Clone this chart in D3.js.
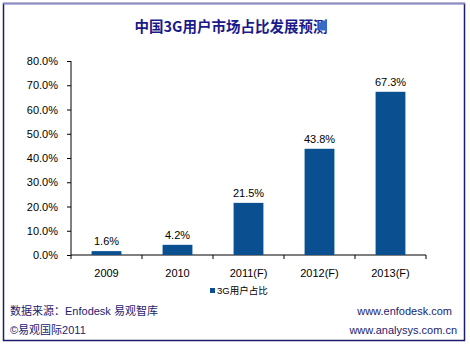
<!DOCTYPE html>
<html><head><meta charset="utf-8">
<script src="https://cdn.jsdelivr.net/npm/d3@7"></script>
<style>html,body{margin:0;padding:0;background:#fff;}svg{display:block;}</style>
</head><body>
<script>
const categories = ["2009","2010","2011(F)","2012(F)","2013(F)"];
const values = [1.6, 4.2, 21.5, 43.8, 67.3];
const yTicks = [0,10,20,30,40,50,60,70,80];
const seriesName = "3G用户占比";
const title = "中国3G用户市场占比发展预测";

const W = 470, H = 344;
const svg = d3.select("body").append("svg").attr("width", W).attr("height", H);
const font = "'Liberation Sans', Arial, 'Noto Sans CJK SC', sans-serif";

// frame
svg.append("rect").attr("x",3.5).attr("y",3.5).attr("width",461).attr("height",337)
  .attr("fill","#fff").attr("stroke","#1c1c6c").attr("stroke-width",1.5);
svg.append("line").attr("x1",3).attr("x2",465).attr("y1",3.5).attr("y2",3.5)
  .attr("stroke","#8a8ac6").attr("stroke-width",1.5);

// title
svg.append("text").attr("x",231).attr("y",32).attr("text-anchor","middle")
  .attr("font-family","'Noto Sans CJK SC', sans-serif").attr("font-weight","bold")
  .attr("font-size",14.5).attr("fill","#1a1a8a").text(title);

const x = d3.scaleBand().domain(categories).range([71,426]).paddingInner(0.58).paddingOuter(0.29);
const y = d3.scaleLinear().domain([0,80]).range([255,61]);

// y axis
const ya = svg.append("g").attr("transform","translate(71,0)")
  .call(d3.axisLeft(y).tickValues(yTicks).tickSize(4).tickPadding(9).tickFormat(d => d.toFixed(1)+"%"));
ya.select(".domain").attr("d","M0,61V255").attr("stroke","#000");
ya.selectAll(".tick line").attr("stroke","#000");
ya.selectAll("text").attr("font-family",font).attr("font-size",11).attr("fill","#000");

// x axis
const xa = svg.append("g").attr("transform","translate(0,255)")
  .call(d3.axisBottom(x).tickSize(0).tickPadding(14));
xa.select(".domain").attr("d","M71,0H426").attr("stroke","#000");
xa.selectAll("text").attr("font-family",font).attr("font-size",11).attr("fill","#000");
// category boundary ticks
const step = x.step();
svg.append("g").selectAll("line").data(d3.range(categories.length+1)).join("line")
  .attr("x1", i => 71 + i*(355/categories.length)).attr("x2", i => 71 + i*(355/categories.length))
  .attr("y1",255).attr("y2",259).attr("stroke","#000");

// bars
svg.append("g").selectAll("rect").data(values).join("rect")
  .attr("x",(d,i)=>x(categories[i])).attr("width",x.bandwidth())
  .attr("y",d=>y(d)).attr("height",d=>y(0)-y(d)).attr("fill","#0a5090");

// labels
svg.append("g").selectAll("text").data(values).join("text")
  .attr("x",(d,i)=>x(categories[i])+x.bandwidth()/2).attr("y",d=>y(d)-6)
  .attr("text-anchor","middle").attr("font-family",font).attr("font-size",11).attr("fill","#000")
  .text(d=>d.toFixed(1)+"%");

// legend
svg.append("rect").attr("x",210).attr("y",288).attr("width",5).attr("height",5).attr("fill","#0a5090");
svg.append("text").attr("x",217).attr("y",294).attr("font-family",font).attr("font-size",9.5)
  .attr("fill","#000").text(seriesName);

// footer
const fcol = "#1c1c70";
const foot = svg.append("g").attr("font-family",font).attr("font-size",11).attr("fill",fcol);
foot.append("text").attr("x",10).attr("y",315).text("数据来源：Enfodesk 易观智库");
foot.append("text").attr("x",10).attr("y",334).text("©易观国际2011");
foot.append("text").attr("x",452).attr("y",315).attr("text-anchor","end").text("www.enfodesk.com");
foot.append("text").attr("x",457).attr("y",334).attr("text-anchor","end").text("www.analysys.com.cn");
</script>
</body></html>
